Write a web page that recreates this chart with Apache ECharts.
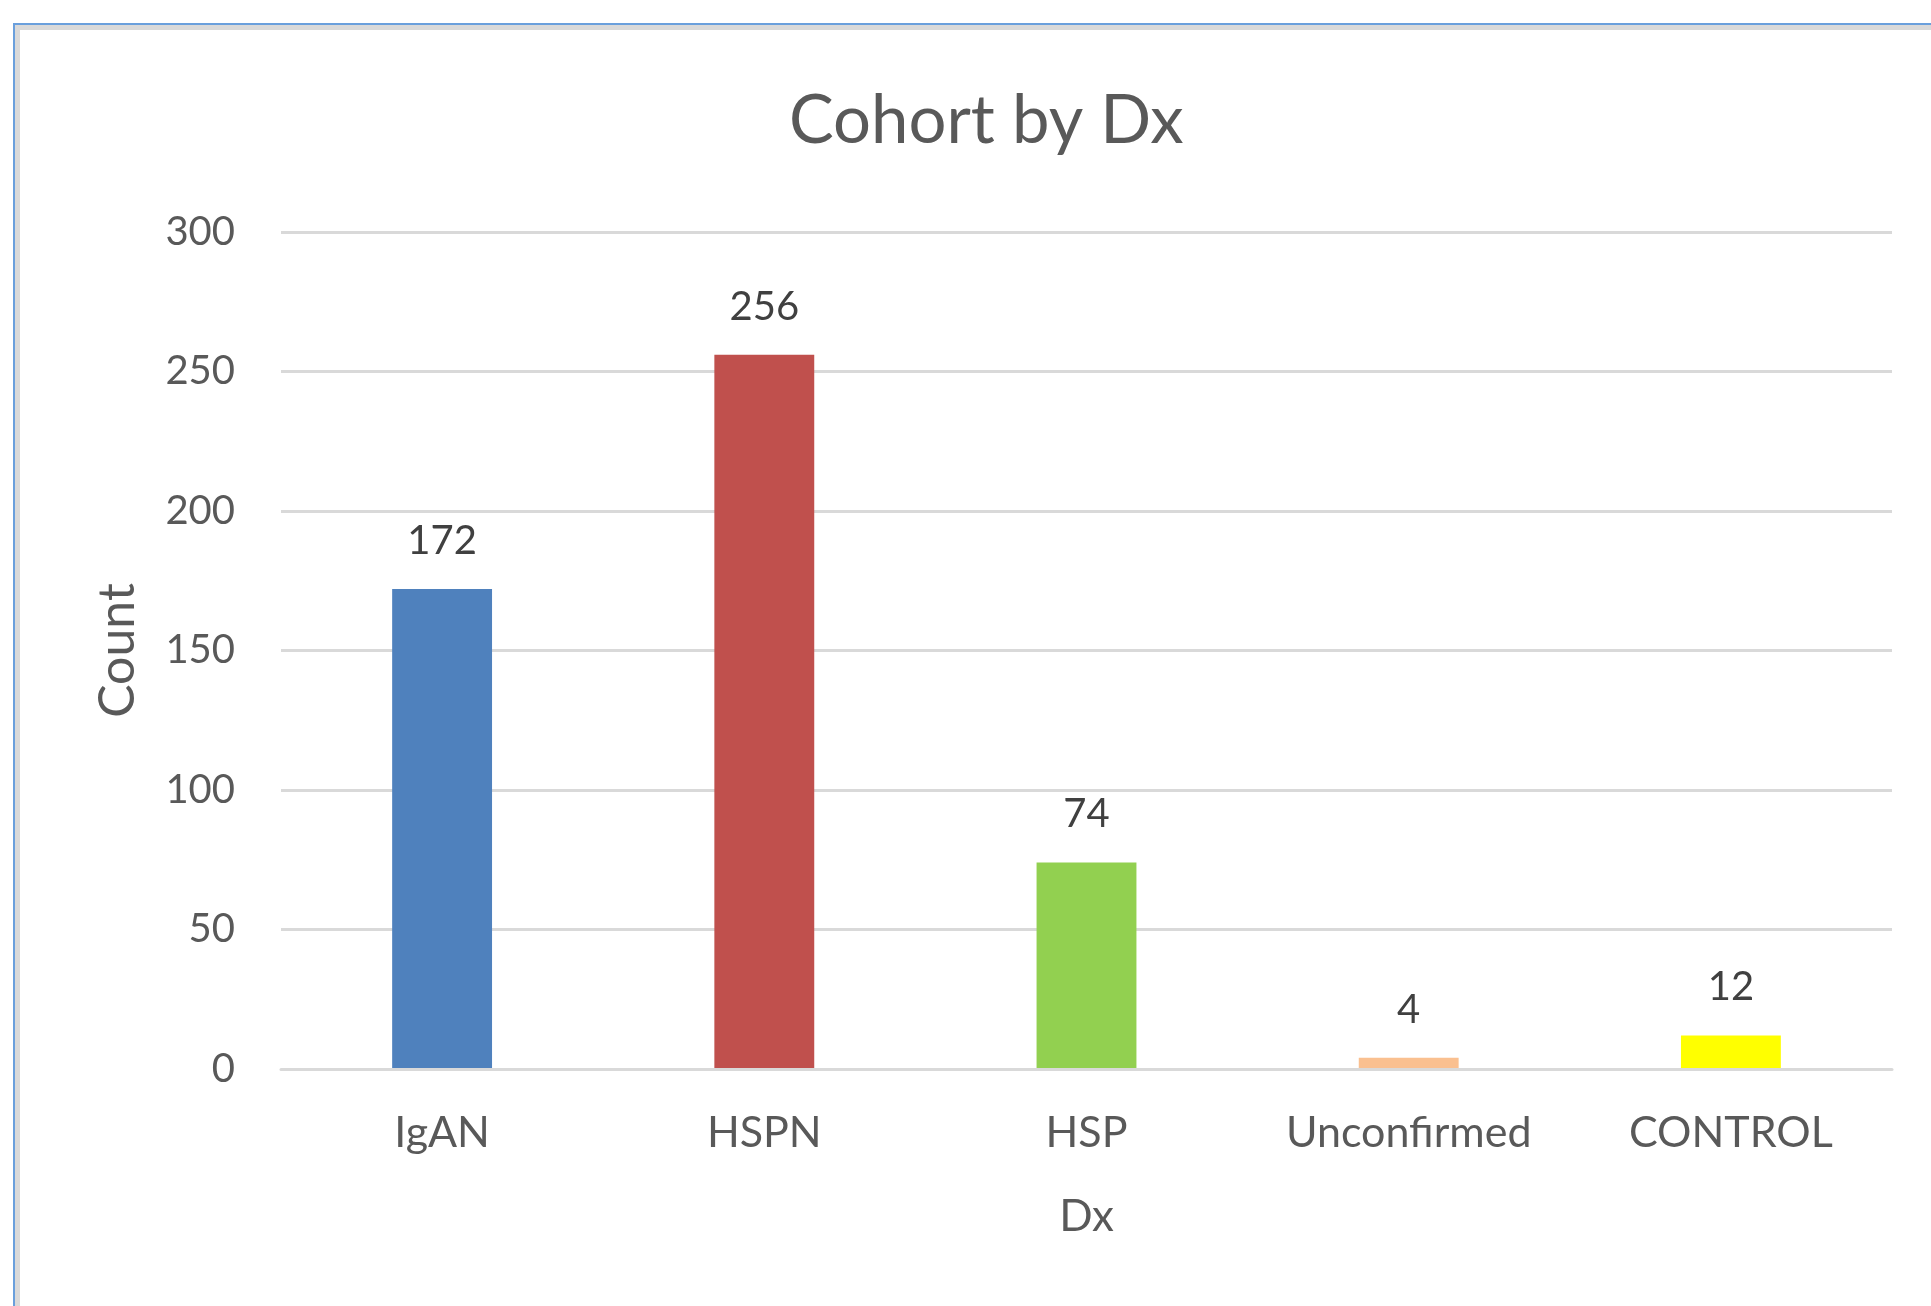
<!DOCTYPE html>
<html>
<head>
<meta charset="utf-8">
<script src="https://cdn.jsdelivr.net/npm/echarts@6/dist/echarts.min.js"></script>
<style>
html,body{margin:0;padding:0;background:#fff;}
#frame{position:absolute;left:13px;top:23px;width:2000px;height:1400px;border-left:2px solid #6a9fdc;border-top:2px solid #6a9fdc;}
#frame2{position:absolute;left:15px;top:25px;width:2000px;height:1400px;border-left:5px solid #d9d9d9;border-top:5px solid #d9d9d9;}
#chart{position:absolute;left:0;top:0;width:1931px;height:1306px;}
</style>
</head>
<body>
<div id="frame"></div>
<div id="frame2"></div>
<div id="chart"></div>
<script>
const categories = ["IgAN", "HSPN", "HSP", "Unconfirmed", "CONTROL"];
const counts = [172, 256, 74, 4, 12];
const barColors = ["#4F81BD", "#C0504D", "#92D050", "#FAC090", "#FFFF00"];
const yTicks = { min: 0, max: 300, interval: 50 };

const FONT = "Lato, 'Open Sans', sans-serif";
const chart = echarts.init(document.getElementById('chart'));
chart.setOption({
  animation: false,
  backgroundColor: 'transparent',
  title: {
    text: 'Cohort by Dx',
    left: 784,
    top: 83,
    textStyle: { fontFamily: FONT, fontSize: 67, fontWeight: 'normal', color: '#595959' }
  },
  grid: { left: 281, right: 39, top: 232, bottom: 237 },
  xAxis: {
    type: 'category',
    data: categories,
    z: 5,
    name: 'Dx',
    nameLocation: 'middle',
    nameGap: 126,
    nameTextStyle: { fontFamily: FONT, fontSize: 44, color: '#595959' },
    axisLine: { show: true, lineStyle: { color: '#d9d9d9', width: 3 } },
    axisTick: { show: false },
    axisLabel: { fontFamily: FONT, fontSize: 43, color: '#595959', margin: 43 }
  },
  yAxis: {
    type: 'value',
    min: yTicks.min,
    max: yTicks.max,
    interval: yTicks.interval,
    name: 'Count',
    nameLocation: 'middle',
    nameGap: 138,
    nameTextStyle: { fontFamily: FONT, fontSize: 50, color: '#595959' },
    axisLine: { show: false },
    axisTick: { show: false },
    splitLine: { lineStyle: { color: '#d9d9d9', width: 3 } },
    axisLabel: { fontFamily: FONT, fontSize: 40, color: '#595959', margin: 46 }
  },
  series: [{
    type: 'bar',
    data: counts.map((v, i) => ({ value: v, itemStyle: { color: barColors[i] } })),
    barWidth: '31%',
    label: {
      show: true,
      position: 'top',
      distance: 28,
      fontFamily: FONT,
      fontSize: 40,
      color: '#404040'
    }
  }]
});
</script>
</body>
</html>
